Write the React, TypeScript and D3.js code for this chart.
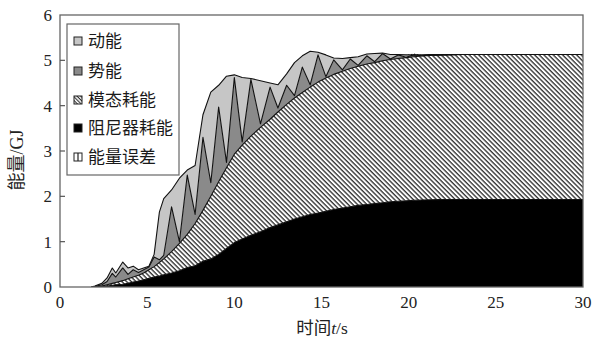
import React from 'react';
import * as d3 from 'd3';

// Time stamps (s) of the sampled energy history
const time = [0, 1.8, 2.0, 2.4, 2.7, 3.0, 3.2, 3.6, 3.9, 4.2, 4.5, 4.8, 5.1, 5.4, 5.7, 5.95,
  6.4, 6.85, 7.3, 7.75, 8.2, 8.65, 9.1, 9.55, 10.0, 10.45, 10.95, 11.5, 12.05, 12.5, 13.0,
  13.45, 13.9, 14.35, 14.8, 15.25, 15.7, 16.2, 16.65, 17.1, 17.6, 18.05, 18.5, 18.95, 19.4,
  19.85, 20.3, 20.75, 21.2, 21.7, 22, 23, 30];

// Energy components (GJ), stacked bottom to top
const damperEnergy = [0, 0, 0, 0.01, 0.02, 0.04, 0.05, 0.06, 0.08, 0.11, 0.13, 0.16, 0.19, 0.22, 0.24, 0.27,
  0.31, 0.36, 0.43, 0.47, 0.57, 0.62, 0.72, 0.85, 0.98, 1.06, 1.14, 1.22, 1.31, 1.37, 1.44,
  1.50, 1.55, 1.60, 1.63, 1.67, 1.71, 1.74, 1.77, 1.80, 1.82, 1.84, 1.86, 1.88, 1.89,
  1.90, 1.915, 1.92, 1.925, 1.928, 1.93, 1.93, 1.93];
const modalEnergy = [0, 0, 0, 0.01, 0.03, 0.04, 0.05, 0.08, 0.10, 0.11, 0.13, 0.15, 0.19, 0.23, 0.30, 0.35,
  0.47, 0.60, 0.73, 0.93, 1.12, 1.38, 1.60, 1.78, 1.95, 2.07, 2.19, 2.30, 2.39, 2.49, 2.59,
  2.67, 2.74, 2.81, 2.89, 2.94, 2.98, 3.02, 3.05, 3.07, 3.10, 3.11, 3.13, 3.14, 3.15,
  3.16, 3.165, 3.175, 3.18, 3.187, 3.19, 3.2, 3.2];
const potentialEnergy = [0, 0, 0.01, 0.03, 0.07, 0.22, 0.12, 0.28, 0.10, 0.16, 0.06, 0.07, 0.06, 0.21, 0.06, 0.08,
  0.99, 0.04, 1.31, 0.20, 1.61, 0.30, 1.65, 0.12, 1.69, 0.07, 1.25, 0.08, 0.71, 0.09, 0.42,
  0.05, 0.56, 0.05, 0.60, 0.03, 0.32, 0.03, 0.21, 0.02, 0.18, 0.02, 0.16, 0.01, 0.08,
  0.01, 0.04, 0.005, 0.015, 0.003, 0, 0, 0];
const kineticEnergy = [0, 0, 0.01, 0.03, 0.08, 0.12, 0.09, 0.13, 0.14, 0.08, 0.06, 0.04, 0.02, 0.06, 1.05, 1.25,
  0.37, 1.40, 0.11, 1.08, 0.50, 2.00, 0.48, 1.90, 0.06, 1.42, 0.02, 0.95, 0.09, 0.51, 0.25,
  0.73, 0.25, 0.74, 0.06, 0.48, 0.04, 0.25, 0.03, 0.19, 0.04, 0.18, 0.01, 0.10, 0.01,
  0.05, 0, 0.02, 0.005, 0.007, 0.005, 0, 0];
const errorEnergy = [0, 0, 0, 0, 0, 0, 0, 0, 0, 0, 0, 0, 0, 0, 0, 0,
  0, 0, 0, 0, 0, 0, 0, 0, 0, 0, 0, 0, 0, 0, 0,
  0, 0, 0, 0, 0, 0, 0, 0, 0, 0, 0, 0, 0, 0,
  0, 0.03, 0, 0, 0, 0, 0, 0];

const xTicks = [0, 5, 10, 15, 20, 25, 30];
const yTicks = [0, 1, 2, 3, 4, 5, 6];
const legendLabels = ['动能', '势能', '模态耗能', '阻尼器耗能', '能量误差'];

const CJK = '"Noto Sans CJK SC", sans-serif';
const SERIF = '"Liberation Serif", "Times New Roman", serif';

type Row = { t: number; damper: number; modal: number; potential: number; kinetic: number; error: number };

export default function App() {
  const W = 595;
  const H = 345;
  const x = d3.scaleLinear().domain([0, 30]).range([60, 583]);
  const y = d3.scaleLinear().domain([0, 6]).range([287, 15]);

  const rows: Row[] = time.map((t, i) => ({
    t,
    damper: damperEnergy[i],
    modal: modalEnergy[i],
    potential: potentialEnergy[i],
    kinetic: kineticEnergy[i],
    error: errorEnergy[i],
  }));
  const keys = ['damper', 'modal', 'potential', 'kinetic', 'error'];
  const series = d3.stack<Row>().keys(keys)(rows);

  const area = d3.area<any>()
    .x((d) => x(d.data.t))
    .y0((d) => y(d[0]))
    .y1((d) => y(d[1]));
  const topLine = d3.line<any>()
    .defined((d) => d.data.t >= 1.8)
    .x((d) => x(d.data.t))
    .y((d) => y(d[1]));

  const fills: Record<string, string> = {
    damper: '#000',
    modal: 'url(#hatch)',
    potential: '#8a8a8a',
    kinetic: '#c6c6c6',
    error: 'url(#vstripe)',
  };

  const legendY = [41, 71, 100, 128, 157];
  const legendFill = ['#c6c6c6', '#8a8a8a', 'url(#hatchSmall)', '#000', '#fff'];

  return (
    <svg width={W} height={H} style={{ position: 'absolute', left: 0, top: 0, background: '#fff' }}>
      <defs>
        <pattern id="hatch" patternUnits="userSpaceOnUse" width="3.3" height="3.3" patternTransform="rotate(45)">
          <rect width="3.3" height="3.3" fill="#fff" />
          <rect width="3.3" height="1.35" fill="#333" />
        </pattern>
        <pattern id="hatchSmall" patternUnits="userSpaceOnUse" width="2.6" height="2.6" patternTransform="rotate(45)">
          <rect width="2.6" height="2.6" fill="#fff" />
          <rect width="2.6" height="1.1" fill="#333" />
        </pattern>
        <pattern id="vstripe" patternUnits="userSpaceOnUse" width="3" height="3">
          <rect width="3" height="3" fill="#fff" />
          <rect width="1.2" height="3" fill="#333" />
        </pattern>
        <clipPath id="plotClip">
          <rect x={60} y={15} width={523} height={272} />
        </clipPath>
      </defs>

      <g clipPath="url(#plotClip)">
        {series.map((s) => (
          <path key={s.key} d={area(s as any) || ''} fill={fills[s.key]} stroke="none" />
        ))}
        {series.filter((s) => s.key !== 'error').map((s) => (
          <path key={'l' + s.key} d={topLine(s as any) || ''} fill="none" stroke="#111" strokeWidth={1.1} strokeLinejoin="round" />
        ))}
      </g>

      {/* frame */}
      <rect x={60} y={15} width={523} height={272} fill="none" stroke="#666" strokeWidth={1.3} />

      {/* y axis ticks and labels */}
      {yTicks.map((v) => (
        <g key={'y' + v}>
          {v > 0 && v < 6 && <line x1={60} x2={65} y1={y(v)} y2={y(v)} stroke="#555" strokeWidth={1.2} />}
          <text x={52} y={y(v) + 6} textAnchor="end" fontFamily={SERIF} fontSize={17} fill="#222">{v}</text>
        </g>
      ))}

      {/* x axis labels */}
      {xTicks.map((v) => (
        <text key={'x' + v} x={x(v)} y={308} textAnchor="middle" fontFamily={SERIF} fontSize={17} fill="#222">{v}</text>
      ))}

      {/* axis titles */}
      <text x={322} y={334} textAnchor="middle" fontSize={17.5} fill="#222">
        <tspan fontFamily={CJK}>时间</tspan>
        <tspan fontFamily={SERIF} fontStyle="italic">t</tspan>
        <tspan fontFamily={SERIF}>/s</tspan>
      </text>
      <text transform="translate(23,160) rotate(-90)" textAnchor="middle" fontSize={18} fill="#222">
        <tspan fontFamily={CJK}>能量</tspan>
        <tspan fontFamily={SERIF}>/GJ</tspan>
      </text>

      {/* legend */}
      <rect x={67} y={24} width={112} height={151} fill="#fff" stroke="#666" strokeWidth={1.2} />
      {legendLabels.map((lab, i) => (
        <g key={lab}>
          <rect x={74} y={legendY[i] - 4} width={8} height={8} fill={legendFill[i]} stroke="#222" strokeWidth={1} />
          {i === 4 && <line x1={78} x2={78} y1={legendY[i] - 4} y2={legendY[i] + 4} stroke="#222" strokeWidth={1.2} />}
          <text x={88} y={legendY[i] + 6} fontFamily={CJK} fontSize={17} fill="#1a1a1a">{lab}</text>
        </g>
      ))}
    </svg>
  );
}
